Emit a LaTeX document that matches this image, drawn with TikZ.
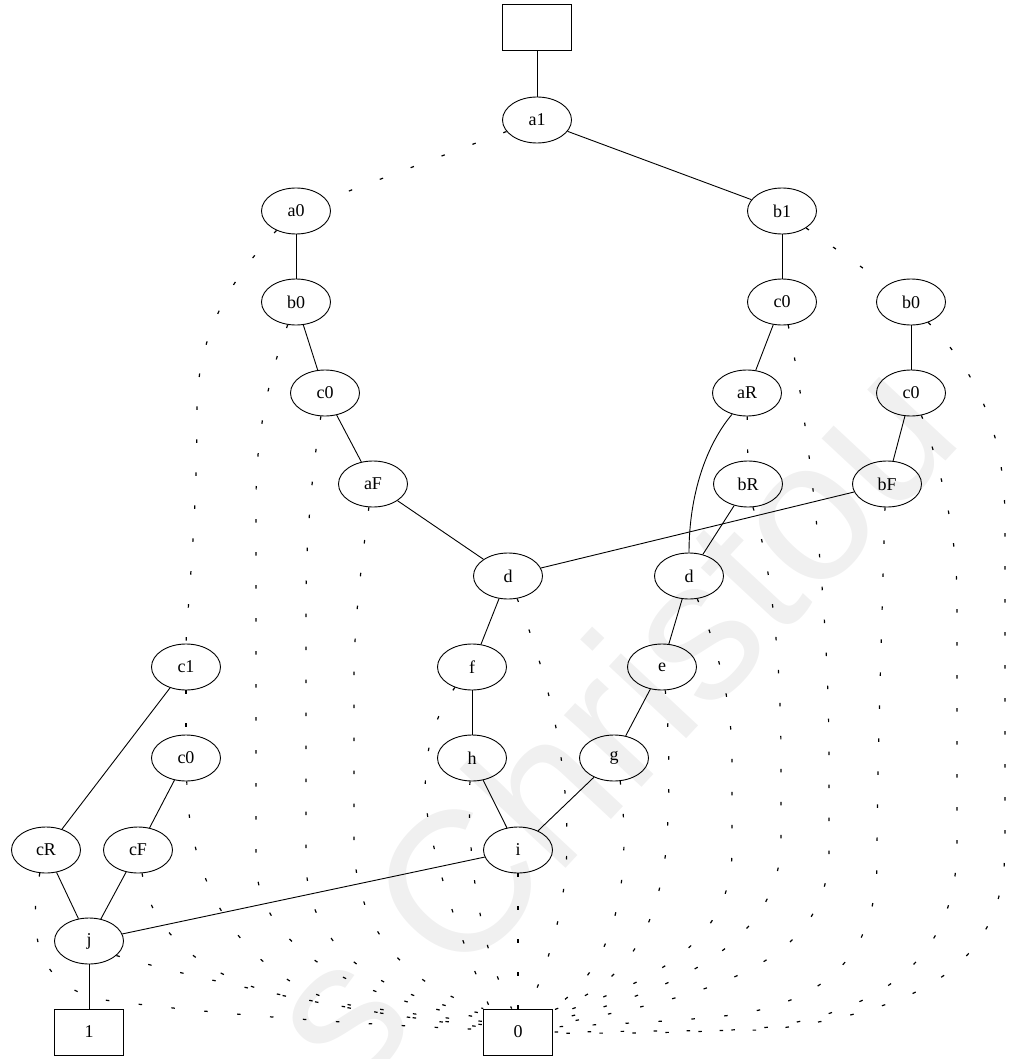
\documentclass[tikz,border=0pt]{standalone}
\usepackage{fontspec}
\setmainfont{Liberation Serif}
\newfontfamily\wmfont{Liberation Sans}
\usetikzlibrary{shapes.geometric}
\begin{document}
\begin{tikzpicture}[x=1pt,y=-1pt,
  bnode/.style={draw, ellipse, minimum width=69pt, minimum height=46pt, inner sep=0pt, line width=0.9pt, font=\fontsize{18}{20}\selectfont},
  tnode/.style={draw, rectangle, minimum width=69pt, minimum height=46pt, inner sep=0pt, line width=0.9pt, font=\fontsize{18}{20}\selectfont},
  hi/.style={line width=0.9pt},
  lo/.style={line width=1.2pt, dash pattern=on 3.5pt off 29.5pt}]
\useasboundingbox (0,0) rectangle (1013,1059);
% watermark
\begin{scope}
\clip (0,0) rectangle (1013,1059);
\node[rotate=47, anchor=base west, inner sep=0pt, text=black!6, font=\wmfont\fontsize{200}{200}\selectfont] (wm) at (352,1098) {s Christou};
\end{scope}
% nodes
\node[tnode] (top) at (537,27) {};
\node[bnode] (a1) at (537,120) {a1};
\node[bnode] (a0) at (296,211) {a0};
\node[bnode] (b1) at (782,211) {b1};
\node[bnode] (b0L) at (296,302) {b0};
\node[bnode] (c0R) at (782,302) {c0};
\node[bnode] (b0R) at (911,302) {b0};
\node[bnode] (c0L) at (325,393) {c0};
\node[bnode] (aR) at (747,393) {aR};
\node[bnode] (c0RR) at (911,393) {c0};
\node[bnode] (aF) at (373,484) {aF};
\node[bnode] (bR) at (748,484) {bR};
\node[bnode] (bF) at (887,484) {bF};
\node[bnode] (dL) at (508,576) {d};
\node[bnode] (dR) at (689,576) {d};
\node[bnode] (c1) at (186,667) {c1};
\node[bnode] (f) at (472,667) {f};
\node[bnode] (e) at (662,667) {e};
\node[bnode] (c0LL) at (186,758) {c0};
\node[bnode] (h) at (472,758) {h};
\node[bnode] (g) at (614,758) {g};
\node[bnode] (cR) at (46,850) {cR};
\node[bnode] (cF) at (138,850) {cF};
\node[bnode] (i) at (518,850) {i};
\node[bnode] (j) at (89,941) {j};
\node[tnode] (one) at (89,1032) {1};
\node[tnode] (zero) at (518,1032) {0};
% solid edges
\draw[hi] (top) -- (a1);
\draw[hi] (a1) -- (b1);
\draw[hi] (a0) -- (b0L);
\draw[hi] (b0L) -- (c0L);
\draw[hi] (c0L) -- (aF);
\draw[hi] (aF) -- (dL);
\draw[hi] (bF) -- (dL);
\draw[hi] (b1) -- (c0R);
\draw[hi] (c0R) -- (aR);
\draw[hi] (aR.-125) .. controls (706,445) and (689,495) .. (dR.north);
\draw[hi] (bR) -- (dR);
\draw[hi] (b0R) -- (c0RR);
\draw[hi] (c0RR) -- (bF);
\draw[hi] (dL) -- (f);
\draw[hi] (f) -- (h);
\draw[hi] (h) -- (i);
\draw[hi] (dR) -- (e);
\draw[hi] (e) -- (g);
\draw[hi] (g) -- (i);
\draw[hi] (i) -- (j);
\draw[hi] (c1) -- (cR);
\draw[hi] (c0LL) -- (cF);
\draw[hi] (cR) -- (j);
\draw[hi] (cF) -- (j);
\draw[hi] (j) -- (one);
% dashed edges
\draw[lo] (a1) -- (a0);
\draw[lo] (b1) -- (b0R);
\draw[lo] (aR) -- (bR);
\draw[lo] (c1) -- (c0LL);
\draw[lo] (i) -- (zero);
\draw[lo] (a0.225) .. controls (225,285) and (197,340) .. (197,410) .. controls (197,520) and (188,600) .. (c1.north);
\draw[lo] (b0R.-50) .. controls (975,370) and (1005,430) .. (1005,520) -- (1005,845) .. controls (1005,960) and (930,1010) .. (766,1030) -- (zero.east);
\draw[lo] (c0RR.-65) .. controls (945,480) and (957,540) .. (957,600) -- (957,845) .. controls (957,960) and (880,1010) .. (770,1027) .. controls (700,1034) and (600,1033) .. (zero.-2);
\draw[lo] (bF.-95) .. controls (881,650) and (877,780) .. (877,860) .. controls (877,960) and (820,1000) .. (740,1014) .. controls (680,1022) and (600,1024) .. (zero.8);
\draw[lo] (c0R.-75) .. controls (808,420) and (829,600) .. (829,760) -- (829,850) .. controls (829,960) and (720,995) .. (zero.12);
\draw[lo] (bR.-78) .. controls (770,560) and (781,650) .. (781,760) -- (781,840) .. controls (781,940) and (680,990) .. (zero.18);
\draw[lo] (dR.-70) .. controls (718,650) and (732,700) .. (732,760) -- (732,850) .. controls (732,950) and (640,985) .. (zero.25);
\draw[lo] (e.-82) .. controls (670,740) and (670,800) .. (666,850) .. controls (655,950) and (610,990) .. (zero.32);
\draw[lo] (g.-75) .. controls (630,860) and (625,960) .. (zero.north east);
\draw[lo] (dL.-68) .. controls (550,680) and (567,760) .. (567,840) .. controls (567,920) and (540,980) .. (zero.65);
\draw[lo] (h.-95) .. controls (466,870) and (485,960) .. (zero.105);
\draw[lo] (f.-130) .. controls (425,730) and (420,780) .. (430,830) .. controls (445,900) and (470,960) .. (zero.140);
\draw[lo] (aF.-100) .. controls (362,560) and (354,620) .. (354,680) -- (354,840) .. controls (354,940) and (420,990) .. (zero.146);
\draw[lo] (c0L.-100) .. controls (312,470) and (306,540) .. (306,600) -- (306,860) .. controls (306,960) and (400,1000) .. (zero.152);
\draw[lo] (b0L.-110) .. controls (275,360) and (256,420) .. (256,500) -- (256,860) .. controls (256,950) and (360,1000) .. (zero.158);
\draw[lo] (c0LL.-88) .. controls (188,880) and (240,980) .. (350,1005) .. controls (420,1015) and (460,1020) .. (zero.163);
\draw[lo] (cF.-80) .. controls (150,930) and (200,975) .. (280,995) .. controls (380,1015) and (440,1022) .. (zero.168);
\draw[lo] (j.-28) .. controls (200,980) and (350,1012) .. (zero.172);
\draw[lo] (cR.-105) .. controls (25,950) and (45,995) .. (120,1002) .. controls (250,1018) and (400,1026) .. (zero.176);
\end{tikzpicture}
\end{document}
